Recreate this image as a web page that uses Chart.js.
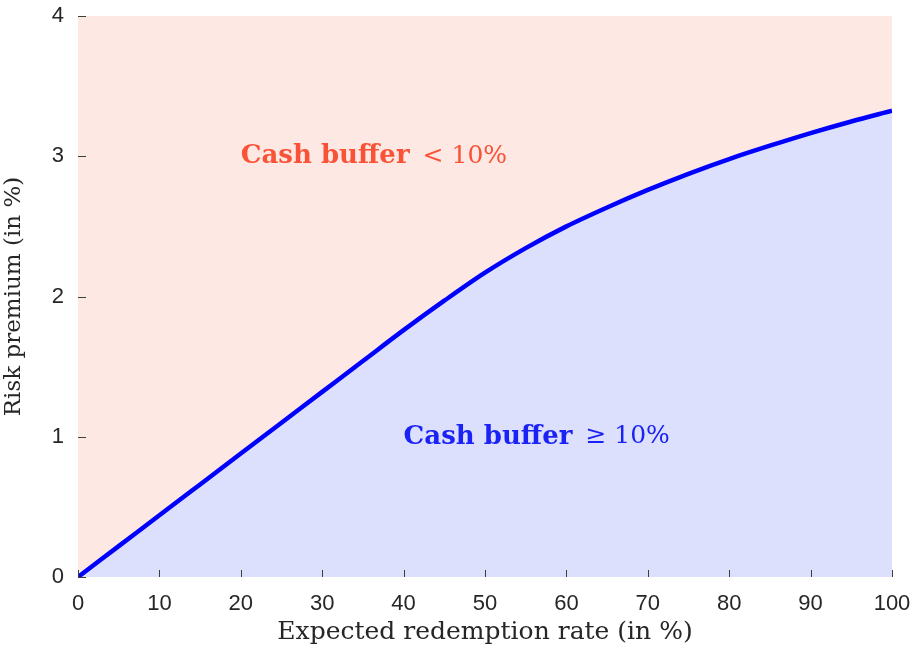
<!DOCTYPE html>
<html>
<head>
<meta charset="utf-8">
<script src="https://cdn.jsdelivr.net/npm/chart.js@4.4.1/dist/chart.umd.min.js"></script>
<style>
  html, body { margin: 0; padding: 0; background: #fff; }
  #riskChart { display: block; }
</style>
</head>
<body>
<canvas id="riskChart" width="919" height="647"></canvas>
<script>
// Expected redemption rate (in %) and the risk premium threshold (in %)
const redemptionRates = [0, 5, 10, 15, 20, 25, 30, 35, 40, 45, 50, 55, 60, 65, 70, 75, 80, 85, 90, 95, 100];
const riskPremium = [0, 0.22, 0.44, 0.66, 0.88, 1.10, 1.32, 1.54, 1.76, 1.97, 2.17, 2.345, 2.50, 2.635, 2.76, 2.875, 2.98, 3.075, 3.165, 3.248, 3.325];
const yCeiling = 4;
const xTicks = [0, 10, 20, 30, 40, 50, 60, 70, 80, 90, 100];
const yTicks = [0, 1, 2, 3, 4];

const curvePoints = redemptionRates.map((x, i) => ({ x: x, y: riskPremium[i] }));
const ceilingPoints = redemptionRates.map(x => ({ x: x, y: yCeiling }));

// inward tick marks, drawn on top of the shaded regions
const innerTicks = {
    id: 'innerTicks',
    afterDatasetsDraw(chart) {
        const ctx = chart.ctx;
        const xs = chart.scales.x, ys = chart.scales.y;
        ctx.save();
        ctx.strokeStyle = '#3c3c3c';
        ctx.lineWidth = 1;
        ctx.beginPath();
        xTicks.forEach(v => {
            const px = Math.round(xs.getPixelForValue(v)) + 0.5;
            ctx.moveTo(px, ys.bottom);
            ctx.lineTo(px, ys.bottom - 7);
        });
        yTicks.forEach(v => {
            const py = Math.round(ys.getPixelForValue(v)) + 0.5;
            ctx.moveTo(xs.left, py);
            ctx.lineTo(xs.left + 8, py);
        });
        ctx.stroke();
        ctx.restore();
    }
};

// region labels
const regionLabels = {
    id: 'regionLabels',
    afterDatasetsDraw(chart) {
        const ctx = chart.ctx;
        const xs = chart.scales.x, ys = chart.scales.y;
        function label(x, y, bold, rest, color) {
            const px = xs.getPixelForValue(x);
            const py = ys.getPixelForValue(y);
            ctx.save();
            ctx.fillStyle = color;
            ctx.textBaseline = 'middle';
            ctx.textAlign = 'left';
            ctx.font = 'bold 26px "DejaVu Serif"';
            ctx.fillText(bold, px, py);
            const w = ctx.measureText(bold).width;
            ctx.font = '25px "DejaVu Serif"';
            ctx.fillText(rest, px + w + 13, py);
            ctx.restore();
        }
        label(20, 3.0, 'Cash buffer', '< 10%', '#fa5236');
        label(40, 1.0, 'Cash buffer', '\u2265 10%', '#1a22f5');
    }
};

const ctx = document.getElementById('riskChart').getContext('2d');
new Chart(ctx, {
    type: 'line',
    data: {
        datasets: [{
            data: curvePoints,
            borderColor: '#0000ff',
            borderWidth: 4.5,
            backgroundColor: '#dde0fc',
            fill: 'origin',
            pointRadius: 0,
            cubicInterpolationMode: 'monotone'
        }, {
            data: ceilingPoints,
            borderWidth: 0,
            borderColor: 'rgba(0,0,0,0)',
            backgroundColor: '#fde8e4',
            fill: '-1',
            pointRadius: 0
        }]
    },
    options: {
        responsive: false,
        animation: false,
        layout: { padding: { top: 16, right: 27, left: 0, bottom: 0 } },
        plugins: {
            legend: { display: false },
            tooltip: { enabled: false }
        },
        scales: {
            x: {
                type: 'linear',
                min: 0,
                max: 100,
                afterBuildTicks: s => { s.ticks = xTicks.map(v => ({ value: v })); },
                afterFit: s => { s.height = 70; },
                grid: { display: false },
                border: { display: false },
                ticks: {
                    color: '#262626',
                    font: { family: '"Liberation Sans", Arial', size: 22, lineHeight: 1 },
                    padding: 8
                },
                title: {
                    display: true,
                    text: 'Expected redemption rate (in %)',
                    color: '#262626',
                    font: { family: '"DejaVu Serif"', size: 25 },
                    padding: { top: 0, bottom: 0 }
                }
            },
            y: {
                min: 0,
                max: yCeiling,
                afterBuildTicks: s => { s.ticks = yTicks.map(v => ({ value: v })); },
                afterFit: s => { s.width = 78; s.paddingTop = 0; },
                grid: { display: false },
                border: { display: true, color: '#8c8c8c', width: 1 },
                ticks: {
                    color: '#262626',
                    font: { family: '"Liberation Sans", Arial', size: 22, lineHeight: 1 },
                    padding: 6
                },
                title: {
                    display: true,
                    text: 'Risk premium (in %)',
                    color: '#262626',
                    font: { family: '"DejaVu Serif"', size: 23 },
                    padding: { top: 0, bottom: 4 }
                }
            }
        }
    },
    plugins: [innerTicks, regionLabels]
});
</script>
</body>
</html>
